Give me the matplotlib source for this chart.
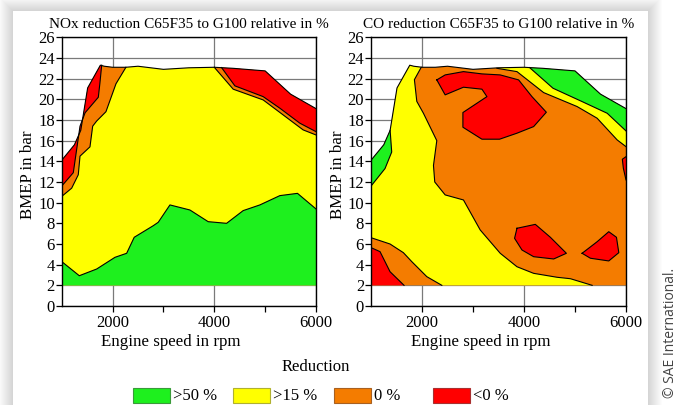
import numpy as np
import matplotlib
matplotlib.use("Agg")
import matplotlib.pyplot as plt
from matplotlib.patches import Rectangle

plt.rcParams["font.family"] = ["Liberation Serif", "DejaVu Serif"]

# full-load envelope (same for both maps), rpm / bar
ENV_X = [1000, 1250, 1375, 1510, 1760, 1840, 2000, 2260, 2500, 3000, 3500, 4000, 4370, 5000, 5500, 6000]
ENV_Y = [14.1, 15.6, 17.0, 21.1, 23.3, 23.2, 23.1, 23.1, 23.2, 22.9, 23.05, 23.1, 23.0, 22.75, 20.5, 19.1]
BMEP_MIN = 2.0

# NOx map boundaries
NOX_GREEN_X = [1000, 1346, 1688, 2047, 2277, 2426, 2800, 2898, 3128, 3521, 3880, 4242, 4568, 4896, 5289, 5636, 6000]
NOX_GREEN_Y = [4.3, 2.93, 3.58, 4.71, 5.1, 6.65, 7.77, 8.1, 9.78, 9.29, 8.16, 8.0, 9.23, 9.78, 10.68, 10.9, 9.39]
NOX_OY_L_X = [1000, 1196, 1326, 1360, 1556, 1609, 1688, 1870, 2067, 2263]
NOX_OY_L_Y = [10.6, 11.4, 12.7, 14.5, 15.4, 17.4, 17.9, 18.8, 21.5, 23.1]
NOX_RO_L_X = [1000, 1228, 1360, 1460, 1720, 1752, 1786]
NOX_RO_L_Y = [11.6, 12.9, 17.4, 18.7, 20.2, 21.6, 23.3]
NOX_OY_R_X = [4000, 4372, 4961, 5354, 5747, 6000]
NOX_OY_R_Y = [23.1, 20.98, 19.94, 18.49, 17.04, 16.55]
NOX_RO_R_X = [4143, 4405, 4961, 5289, 5682, 6000]
NOX_RO_R_Y = [23.07, 21.3, 20.26, 19.14, 17.69, 16.87]

# CO map boundaries
CO_GY_L_X = [1000, 1275, 1406, 1375]
CO_GY_L_Y = [11.6, 13.3, 14.9, 17.0]
CO_YO_X = [1985, 1851, 1898, 2028, 2290, 2225, 2250, 2454, 2813, 3141, 3534, 3862, 4189, 4648, 4910, 5336]
CO_YO_Y = [23.1, 21.9, 19.8, 18.65, 16.0, 13.6, 12.0, 10.75, 10.26, 7.36, 5.1, 3.8, 3.16, 2.78, 2.64, 2.0]
CO_YO_LOW_X = [1000, 1373, 1635, 1800, 2094, 2389]
CO_YO_LOW_Y = [6.61, 6.0, 5.16, 4.29, 2.84, 2.0]
CO_RO_LOW_X = [1000, 1177, 1373, 1648]
CO_RO_LOW_Y = [5.65, 5.26, 3.32, 2.0]
CO_YO_TR_X = [3469, 3862, 4385, 5041, 5434, 5827, 6000]
CO_YO_TR_Y = [23.0, 22.68, 20.65, 19.3, 18.17, 16.07, 15.42]
CO_GY_TR_X = [4110, 4569, 5139, 5631, 6000]
CO_GY_TR_Y = [23.07, 21.07, 19.78, 18.65, 16.94]
CO_RED1_X = [2290, 2454, 2813, 3175, 3534, 3894, 4156, 4438, 4189, 3862, 3521, 3175, 2802, 2802, 3273, 3175, 2813, 2454]
CO_RED1_Y = [21.88, 22.36, 22.68, 22.46, 22.36, 21.88, 20.26, 18.75, 17.36, 16.72, 16.14, 16.14, 17.3, 18.72, 20.26, 20.98, 21.17, 20.43]
CO_RED2_X = [3862, 4222, 4517, 4831, 4582, 4189, 3960, 3815]
CO_RED2_Y = [7.52, 7.9, 6.65, 5.1, 4.55, 4.77, 5.42, 6.55]
CO_RED3_X = [5139, 5303, 5662, 5859, 5813, 5662, 5434]
CO_RED3_Y = [5.1, 4.62, 4.36, 5.16, 6.65, 7.19, 6.22]
CO_RED4_X = [6000, 5928, 5948, 6000]
CO_RED4_Y = [14.45, 14.2, 13.33, 12.2]

GREEN, YELLOW, ORANGE, RED = "#1ef01e", "#ffff00", "#f47c00", "#ff0000"
LEGEND_LABELS = [">50 %", ">15 %", "0 %", "<0 %"]
LEGEND_COLORS = [GREEN, YELLOW, ORANGE, RED]
LEGEND_EDGES = ["#3a9a3a", "#b0b030", "#a86020", "#a83030"]

W, H = 684, 405


def fx(px):
    return px / W


def fy(py):
    return 1 - py / H


def env_seg(x0, x1):
    xs = [x0] + [x for x in ENV_X if x0 < x < x1] + [x1]
    ys = list(np.interp(xs, ENV_X, ENV_Y))
    return xs, ys


def fill(ax, xs, ys, color):
    ax.fill(xs, ys, color=color, lw=0, zorder=1)


def edge(ax, xs, ys, closed=False):
    xs, ys = list(xs), list(ys)
    if closed:
        xs, ys = xs + xs[:1], ys + ys[:1]
    ax.plot(xs, ys, color="black", lw=0.8, zorder=3)


def top_left(ax, cx, cy, color):
    ex, ey = env_seg(ENV_X[0], cx[-1])
    fill(ax, ex + cx[::-1], ey + cy[::-1], color)
    edge(ax, cx, cy)


def top_right(ax, cx, cy, color):
    ex, ey = env_seg(cx[0], ENV_X[-1])
    fill(ax, ex + cx[::-1], ey + cy[::-1], color)
    edge(ax, cx, cy)


def style_axes(ax, title):
    ax.set_xlim(1000, 6000)
    ax.set_ylim(0, 26)
    ax.set_xticks([2000, 4000, 6000])
    ax.set_xticks([3000, 5000], minor=True)
    ax.set_yticks(range(0, 27, 2))
    ax.grid(True, which="major", color="#7a7a7a", lw=0.9, zorder=0)
    ax.set_axisbelow(True)
    ax.tick_params(axis="both", which="both", direction="out", labelsize=12, length=4, width=0.9)
    ax.tick_params(axis="y", pad=1)
    ax.tick_params(axis="x", pad=2.5)
    for s in ax.spines.values():
        s.set_color("black")
        s.set_linewidth(1.0)
        s.set_zorder(5)
    ax.set_title(title, fontsize=11, pad=6.5)
    ax.set_xlabel("Engine speed in rpm", fontsize=12.2)
    ax.set_ylabel("BMEP in bar", fontsize=12.2)
    ax.xaxis.set_label_coords(0.43, -0.105)
    ax.yaxis.set_label_coords(-0.10, 0.49)
    # envelope outline
    ax.plot(ENV_X, ENV_Y, color="black", lw=0.8, zorder=3)


fig = plt.figure(figsize=(W / 100, H / 100), dpi=100)
fig.patch.set_facecolor("white")

# card with soft shadow
for i in range(14, 0, -1):
    fig.add_artist(Rectangle((fx(13 - i), fy(H + 20)), fx(648 - 13 + 2 * i), (H + 20 - 11 + i) / H,
                             facecolor="black", alpha=0.012, lw=0, zorder=-3))
fig.add_artist(Rectangle((fx(13), fy(H + 20)), fx(648 - 13), (H + 20 - 11) / H,
                         facecolor="white", lw=0, zorder=-2))

ax1 = fig.add_axes([fx(61.7), fy(306), fx(316 - 61.7), (306 - 37.3) / H])
ax2 = fig.add_axes([fx(371), fy(306), fx(626 - 371), (306 - 37.3) / H])

# ---- NOx map
base_x = [ENV_X[0]] + ENV_X + [ENV_X[-1]]
base_y = [BMEP_MIN] + ENV_Y + [BMEP_MIN]
fill(ax1, base_x, base_y, YELLOW)
fill(ax1, NOX_GREEN_X + [6000, 1000], NOX_GREEN_Y + [BMEP_MIN, BMEP_MIN], GREEN)
edge(ax1, NOX_GREEN_X, NOX_GREEN_Y)
top_left(ax1, NOX_OY_L_X, NOX_OY_L_Y, ORANGE)
top_left(ax1, NOX_RO_L_X, NOX_RO_L_Y, RED)
top_right(ax1, NOX_OY_R_X, NOX_OY_R_Y, ORANGE)
top_right(ax1, NOX_RO_R_X, NOX_RO_R_Y, RED)
style_axes(ax1, "NOx reduction C65F35 to G100 relative in %")

# ---- CO map
fill(ax2, base_x, base_y, ORANGE)
ex, ey = env_seg(ENV_X[0], CO_YO_X[0])
fill(ax2, ex + CO_YO_X + CO_YO_LOW_X[::-1], ey + CO_YO_Y + CO_YO_LOW_Y[::-1], YELLOW)
edge(ax2, CO_YO_X, CO_YO_Y)
edge(ax2, CO_YO_LOW_X, CO_YO_LOW_Y)
top_left(ax2, CO_GY_L_X, CO_GY_L_Y, GREEN)
fill(ax2, CO_RO_LOW_X + [1000], CO_RO_LOW_Y + [BMEP_MIN], RED)
edge(ax2, CO_RO_LOW_X, CO_RO_LOW_Y)
top_right(ax2, CO_YO_TR_X, CO_YO_TR_Y, YELLOW)
top_right(ax2, CO_GY_TR_X, CO_GY_TR_Y, GREEN)
for rx, ry in [(CO_RED1_X, CO_RED1_Y), (CO_RED2_X, CO_RED2_Y), (CO_RED3_X, CO_RED3_Y)]:
    fill(ax2, rx, ry, RED)
    edge(ax2, rx, ry, closed=True)
fill(ax2, CO_RED4_X, CO_RED4_Y, RED)
edge(ax2, CO_RED4_X, CO_RED4_Y)
style_axes(ax2, "CO reduction C65F35 to G100 relative in %")

# ---- legend
fig.text(fx(316), fy(367), "Reduction", ha="center", va="center", fontsize=12)
box_x = [133.3, 233.3, 334.3, 433.3]
for bx, lab, c, ec in zip(box_x, LEGEND_LABELS, LEGEND_COLORS, LEGEND_EDGES):
    fig.add_artist(Rectangle((fx(bx), fy(403)), fx(37), 15 / H, facecolor=c,
                             edgecolor=ec, lw=0.8, zorder=2))
    fig.text(fx(bx + 40), fy(396), lab, ha="left", va="center", fontsize=12)

fig.text(fx(671), fy(333), "\u00a9 SAE International.", rotation=90, ha="center", va="center",
         fontsize=10, color="#444444", family=["Open Sans", "DejaVu Sans"])

fig.savefig("out.png", dpi=100, facecolor=fig.get_facecolor())
